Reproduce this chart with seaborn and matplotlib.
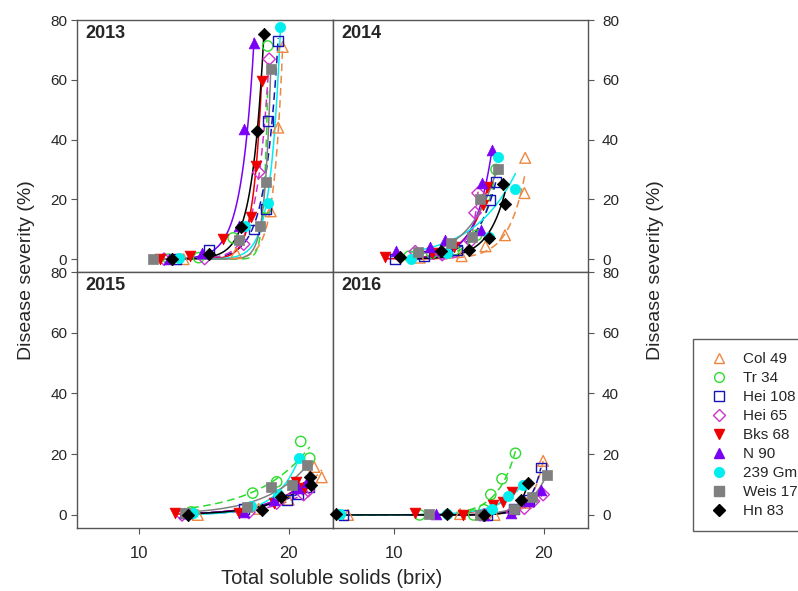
import numpy as np
import pandas as pd
import matplotlib
matplotlib.use("Agg")
import matplotlib.pyplot as plt
from matplotlib.lines import Line2D
import seaborn as sns

sns.set_style("ticks")
plt.rcParams['font.family'] = ['Liberation Sans', 'DejaVu Sans']

cultivars = ["Col 49", "Tr 34", "Hei 108", "Hei 65", "Bks 68", "N 90", "239 Gm", "Weis 17", "Hn 83"]
years = ["2013", "2014", "2015", "2016"]

# ---- data: brix (x) and disease severity % (y), per year per cultivar ----
x2013 = {
    "Col 49": [13.0, 16.5, 18.8, 19.3, 19.6],
    "Tr 34": [12.0, 14.0, 16.3, 18.5, 18.6],
    "Hei 108": [12.5, 14.7, 17.67, 18.5, 18.6, 19.3],
    "Hei 65": [11.7, 14.4, 17.0, 18.0, 18.7],
    "Bks 68": [11.4, 13.4, 15.6, 17.5, 17.8, 18.2],
    "N 90": [12.0, 14.2, 16.7, 17.0, 17.7],
    "239 Gm": [12.7, 17.1, 18.6, 19.45],
    "Weis 17": [10.95, 16.7, 18.07, 18.47, 18.8],
    "Hn 83": [12.2, 14.7, 16.85, 17.9, 18.35],
}
y2013 = {
    "Col 49": [0, 2, 16, 44, 71],
    "Tr 34": [0, 0.5, 7.1, 17, 71.3],
    "Hei 108": [0, 3, 9.9, 16.9, 46.3, 73],
    "Hei 65": [0, 0.2, 5, 29, 66.9],
    "Bks 68": [0, 1, 6.6, 14.1, 31.3, 59.7],
    "N 90": [0, 1.9, 11, 43.6, 72.4],
    "239 Gm": [0.5, 11, 18.8, 77.7],
    "Weis 17": [0, 6.3, 11, 25.8, 63.6],
    "Hn 83": [0.2, 1.6, 10.6, 43, 75.4],
}
x2014 = {
    "Col 49": [11.7, 14.5, 16.1, 17.4, 18.7, 18.75],
    "Tr 34": [11.0, 12.5, 14.0, 15.5, 16.8],
    "Hei 108": [10.07, 12.0, 14.2, 16.4, 16.8],
    "Hei 65": [11.4, 13.2, 15.1, 15.4, 15.6],
    "Bks 68": [9.4, 12.5, 14.0, 15.95, 16.2],
    "N 90": [10.1, 12.4, 13.4, 15.8, 15.85, 16.5],
    "239 Gm": [11.1, 13.5, 16.3, 16.9, 18.1],
    "Weis 17": [11.6, 13.8, 15.2, 15.7, 16.9],
    "Hn 83": [10.4, 13.1, 15.0, 16.3, 17.3, 17.4],
}
y2014 = {
    "Col 49": [0.5, 1, 4.3, 8, 22.1, 33.9],
    "Tr 34": [1, 2, 3, 8, 30],
    "Hei 108": [0, 1, 3, 19.7, 25.8],
    "Hei 65": [2.5, 1.5, 6, 15.5, 22.1],
    "Bks 68": [0.8, 2, 4, 18, 24],
    "N 90": [2.7, 4.1, 6.5, 9.9, 25.4, 36.6],
    "239 Gm": [0, 2, 7.5, 34.1, 23.6],
    "Weis 17": [2.5, 5.5, 7.5, 20.2, 30.2],
    "Hn 83": [0.8, 2.7, 3, 7.1, 25.2, 18.6],
}
x2015 = {
    "Col 49": [13.95, 18.0, 20.0, 21.7, 22.2],
    "Tr 34": [13.5, 17.6, 19.2, 20.8, 21.4],
    "Hei 108": [13.2, 17.0, 19.9, 20.6, 21.35],
    "Hei 65": [12.9, 17.35, 19.2, 21.0, 21.3],
    "Bks 68": [12.4, 16.7, 19.0, 20.5, 21.0],
    "N 90": [13.0, 17.0, 19.0, 20.6, 21.2],
    "239 Gm": [13.6, 17.5, 19.3, 20.7],
    "Weis 17": [13.1, 17.2, 18.8, 20.2, 21.2],
    "Hn 83": [13.3, 18.2, 19.5, 21.4, 21.5],
}
y2015 = {
    "Col 49": [0, 2, 5, 15.8, 12.4],
    "Tr 34": [1, 7.2, 10.9, 24.2, 18.7],
    "Hei 108": [0.5, 2, 5, 7, 9.1],
    "Hei 65": [0, 0.8, 3.9, 6.7, 8],
    "Bks 68": [0.6, 0.8, 4, 11, 9],
    "N 90": [0.5, 1, 5, 9, 11],
    "239 Gm": [0.5, 3, 7, 18.9],
    "Weis 17": [0.5, 2.5, 9.1, 10, 16.4],
    "Hn 83": [0, 1.7, 6, 12.4, 10],
}
x2016 = {
    "Col 49": [6.9, 14.4, 16.7, 18.8, 19.95],
    "Tr 34": [11.7, 15.3, 16.0, 16.45, 17.2, 18.1],
    "Hei 108": [6.6, 16.2, 18.0, 19.0, 19.8],
    "Hei 65": [16.0, 17.9, 18.7, 19.3, 19.95],
    "Bks 68": [11.4, 14.6, 16.6, 17.3, 17.9],
    "N 90": [12.8, 16.0, 17.8, 19.0, 19.8],
    "239 Gm": [6.4, 13.5, 16.5, 17.6, 18.6],
    "Weis 17": [12.35, 15.7, 18.0, 19.2, 20.2],
    "Hn 83": [6.13, 13.5, 16.0, 18.5, 18.95],
}
y2016 = {
    "Col 49": [0, 0.3, 0, 4, 17.8],
    "Tr 34": [0, 0, 1.7, 6.7, 11.9, 20.3],
    "Hei 108": [0, 0, 2, 5, 15.6],
    "Hei 65": [0, 1, 2.2, 4.5, 6.7],
    "Bks 68": [0.8, 0, 3.3, 4.4, 7.4],
    "N 90": [0.3, 0, 0.5, 4.5, 8.3],
    "239 Gm": [0.3, 0.3, 2, 6.1, 10],
    "Weis 17": [0.3, 0, 2, 6, 13.3],
    "Hn 83": [0.3, 0.3, 0, 5, 10.6],
}
x_ticks = [10, 20]
y_ticks = [0, 20, 40, 60, 80]

# ---- styles ----
colors = {"Col 49": "#EE8740", "Tr 34": "#2EDB2E", "Hei 108": "#1414B8", "Hei 65": "#CC33CC",
          "Bks 68": "#EE0000", "N 90": "#7A00F5", "239 Gm": "#00EEEE", "Weis 17": "#808080",
          "Hn 83": "#000000"}
markers = {"Col 49": "^", "Tr 34": "o", "Hei 108": "s", "Hei 65": "D", "Bks 68": "v",
           "N 90": "^", "239 Gm": "o", "Weis 17": "s", "Hn 83": "D"}
open_m = {"Col 49", "Tr 34", "Hei 108", "Hei 65"}
msize = {"^": 60, "v": 60, "o": 55, "s": 50, "D": 40}

data = {"2013": (x2013, y2013), "2014": (x2014, y2014), "2015": (x2015, y2015), "2016": (x2016, y2016)}


def exp_fit(x, y):
    x = np.asarray(x, float); y = np.asarray(y, float)
    x0 = x.max()
    best = None
    for b in np.linspace(0.02, 4.0, 2000):
        e = np.exp(b * (x - x0))
        a = (y * e).sum() / (e * e).sum()
        r = ((y - a * e) ** 2).sum()
        if best is None or r < best[0]:
            best = (r, a, b)
    _, a, b = best
    xs = np.linspace(x.min(), x.max(), 200)
    return xs, a * np.exp(b * (xs - x0))


fig = plt.figure(figsize=(7.98, 5.91), dpi=100)
W, H = 798, 591
pos = {"2013": (77, 20, 333, 272), "2014": (333, 20, 588, 272),
       "2015": (77, 272, 333, 528), "2016": (333, 272, 588, 528)}

for yr in years:
    l, t, r, b = pos[yr]
    pw, ph = r - l, b - t
    ax = fig.add_axes([l / W, 1 - b / H, pw / W, ph / H])
    xd, yd = data[yr]
    for c in cultivars:
        xs, ys = exp_fit(xd[c], yd[c])
        fit_df = pd.DataFrame({"x": xs, "y": ys})
        sns.lineplot(data=fit_df, x="x", y="y", ax=ax, color=colors[c], lw=1.1,
                     linestyle="--" if c in open_m else "-", zorder=2, sort=False,
                     dashes=False, estimator=None)
        if c in open_m:
            ax.lines[-1].set_dashes([5, 3])
    for c in cultivars:
        pts = pd.DataFrame({"x": xd[c], "y": yd[c]})
        if c in open_m:
            ax.scatter(pts["x"], pts["y"], marker=markers[c], s=msize[markers[c]],
                       facecolors="none", edgecolors=colors[c], linewidths=1.0, zorder=3, clip_on=False)
        else:
            sns.scatterplot(data=pts, x="x", y="y", ax=ax, marker=markers[c], s=msize[markers[c]],
                            color=colors[c], edgecolor=colors[c], linewidth=0.5, zorder=3,
                            clip_on=False, legend=False)
    ax.set_xlim(5.9, 22.95)
    ax.set_ylim(-4.3, 80)
    ax.set_xlabel(""); ax.set_ylabel("")
    ax.set_yticks(y_ticks)
    ax.text(8 / pw, 1 - 5 / ph, yr, transform=ax.transAxes, ha="left", va="top",
            fontsize=13, fontweight="bold")
    for s in ax.spines.values():
        s.set_color("#555555"); s.set_linewidth(1.0)
    ax.tick_params(direction="out", length=4, width=0.8, color="#555555", labelsize=11)
    if yr in ("2013", "2014"):
        ax.set_xticks([])
    else:
        ax.set_xticks(x_ticks)
        ax.tick_params(axis="x", pad=9, labelsize=12)
    if yr in ("2014", "2016"):
        ax.yaxis.tick_right()
        ax.tick_params(axis="y", pad=6)
    else:
        ax.tick_params(axis="y", pad=3)

fig.text(27 / W, 1 - 270 / H, "Disease severity (%)", rotation=90, ha="center", va="center", fontsize=14)
fig.text(655 / W, 1 - 270 / H, "Disease severity (%)", rotation=90, ha="center", va="center", fontsize=14)
fig.text(332 / W, 1 - 578 / H, "Total soluble solids (brix)", ha="center", va="center", fontsize=14.5)

handles = []
for c in cultivars:
    handles.append(Line2D([], [], linestyle="none", marker=markers[c], markersize=7 if markers[c] != "D" else 6,
                          markerfacecolor="none" if c in open_m else colors[c],
                          markeredgecolor=colors[c], markeredgewidth=1.0, label=c))
leg = fig.legend(handles=handles, loc="upper left", bbox_to_anchor=(693 / W, 1 - 339 / H),
                 fontsize=11, frameon=True, fancybox=False, edgecolor="#333333",
                 labelspacing=0.33, handletextpad=0.7, borderpad=0.85, handlelength=1.7,
                 borderaxespad=0)
leg.get_frame().set_linewidth(1.0)

fig.savefig("out.png", dpi=100)
